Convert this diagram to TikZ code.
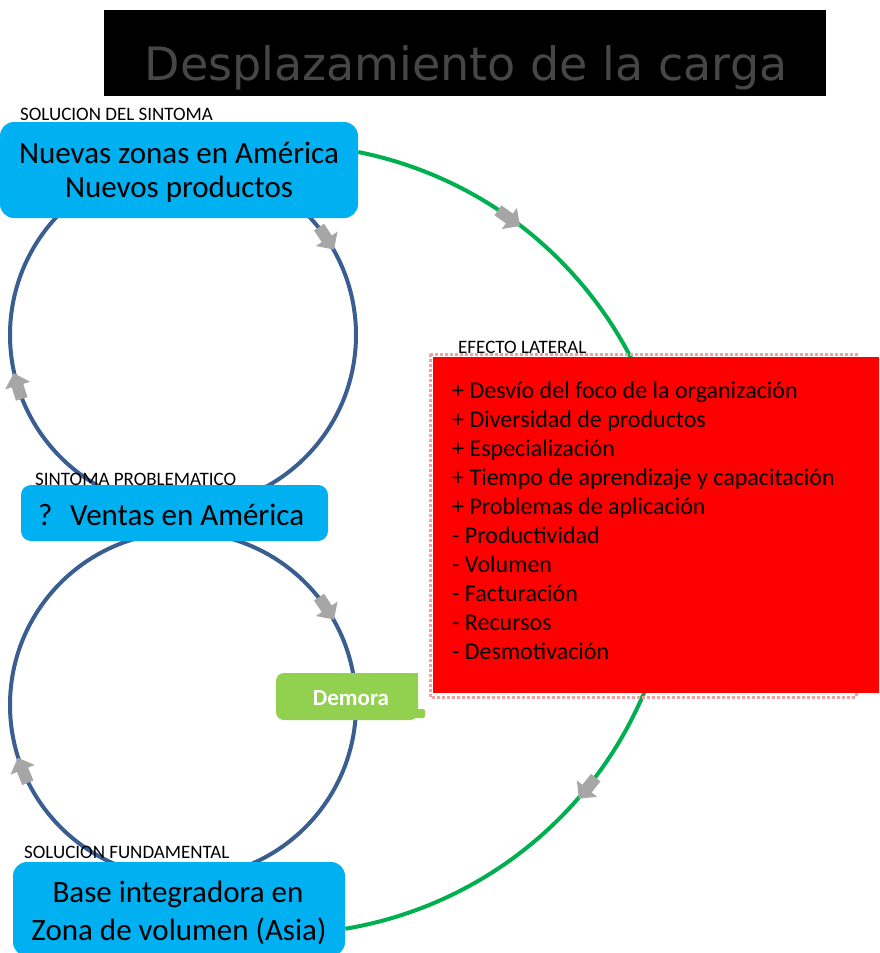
\documentclass[tikz,border=0pt]{standalone}
\usepackage{fontspec}
\setmainfont{Carlito}
\newfontfamily\titlefont{DejaVu Sans}

\definecolor{boxblue}{HTML}{00B0F0}
\definecolor{loopblue}{HTML}{3B5E91}
\definecolor{sidegreen}{HTML}{00B050}
\definecolor{arrowgray}{HTML}{A6A6A6}
\definecolor{delaygreen}{HTML}{92D050}
\definecolor{sidered}{HTML}{FF0000}
\definecolor{halopink}{HTML}{F4A0A0}
\definecolor{titlegray}{HTML}{464646}

\pgfdeclarelayer{paper}
\pgfdeclarelayer{lines}
\pgfsetlayers{paper,lines,main}

\tikzset{
  loopline/.style={draw=loopblue, line width=4pt},
  sideline/.style={draw=sidegreen, line width=4pt},
  bluebox/.style={fill=boxblue, draw=none, inner sep=0pt},
  bigtext/.style={inner sep=0pt, font=\fontsize{31}{34}\selectfont},
  tag/.style={inner sep=0pt, anchor=base west, font=\fontsize{19}{21}\selectfont},
  effect/.style={inner sep=0pt, anchor=base west, font=\fontsize{24}{29}\selectfont},
  blockarr/.pic={\fill[arrowgray] (-14,-6) -- (0,-6) -- (0,-13) -- (13,0) -- (0,13) -- (0,6) -- (-14,6) -- cycle;}
}

\begin{document}
\begin{tikzpicture}[x=1pt,y=1pt]
\useasboundingbox (0,0) rectangle (880,-953);
\begin{pgfonlayer}{paper}
  \fill[white] (0,0) rectangle (880,-953);
\end{pgfonlayer}

% title bar
\node[fill=black, minimum width=722pt, minimum height=86pt, inner sep=0pt] (titlebar) at (465,-53) {};
\node[inner sep=0pt, anchor=base, text=titlegray, font=\titlefont\fontsize{46}{50}\selectfont] (title) at (466,-80) {Desplazamiento de la carga};

% centres of the loops
\coordinate (upc) at (183,-335);
\coordinate (loc) at (183,-705);
\coordinate (sidec) at (280,-540);

% boxes
\node[bluebox, rounded corners=14pt, minimum width=358pt, minimum height=96pt] (nuevas) at (179,-170) {};
\node[bigtext, anchor=base] (nuevas1) at (179,-163) {Nuevas zonas en América};
\node[bigtext, anchor=base] (nuevas2) at (179,-197) {Nuevos productos};
\node[tag] (lblsint) at (20,-120) {SOLUCION DEL SINTOMA};

\node[bluebox, rounded corners=10pt, minimum width=307pt, minimum height=56pt] (ventas) at (174.5,-513) {};
\node[bigtext, anchor=base west] (ventasq) at (38,-525) {?};
\node[bigtext, anchor=base west] (ventas1) at (70,-525) {Ventas en América};
\node[tag] (lblprob) at (35,-485) {SINTOMA PROBLEMATICO};

\node[bluebox, rounded corners=14pt, minimum width=332pt, minimum height=94pt] (base) at (179,-909) {};
\node[bigtext, anchor=base] (base1) at (178,-902) {Base integradora en};
\node[bigtext, anchor=base] (base2) at (179,-940) {Zona de volumen (Asia)};
\node[tag] (lblfund) at (24,-858) {SOLUCION FUNDAMENTAL};

% side effect box with its faint halo
\draw[halopink, line width=3pt, dotted] (430,-354) rectangle (856,-697);
\node[fill=sidered, inner sep=0pt, minimum width=446pt, minimum height=336pt] (effects) at (656,-525) {};
\node[tag] (lbleff) at (458,-353) {EFECTO LATERAL};
\foreach \txt [count=\i from 0] in {%
  + Desvío del foco de la organización,
  + Diversidad de productos,
  + Especialización,
  + Tiempo de aprendizaje y capacitación,
  + Problemas de aplicación,
  - Productividad,
  - Volumen,
  - Facturación,
  - Recursos,
  - Desmotivación}
  \node[effect] (eff\i) at (452,-398-29.1*\i) {\txt};

% delay tag
\node[fill=delaygreen, rounded corners=8pt, minimum width=142pt, minimum height=47pt, inner sep=0pt] (demora) at (347,-696.5) {};
\fill[delaygreen] (demora.north east) rectangle ++(-10,-10);
\fill[delaygreen, rounded corners=2pt] (410,-709) rectangle (425,-718);
\node[inner sep=0pt, anchor=base, text=white, font=\bfseries\fontsize{23}{25}\selectfont] (demoratxt) at (351,-705) {Demora};

% loops and the side-effect arc, behind the boxes
\begin{pgfonlayer}{lines}
  \draw[loopline] (upc) circle[radius=173pt];
  \draw[loopline] (loc) circle[radius=173pt];
  \draw[sideline] (nuevas.east) ++(0,18) arc[start angle=78.6, end angle=-80.5, radius=395pt];
  \pic[rotate=-56.2] at ([shift={(33.8:173pt)}]upc) {blockarr};
  \pic[rotate=107] at ([shift={(197:173pt)}]upc) {blockarr};
  \pic[rotate=-56.2] at ([shift={(33.8:173pt)}]loc) {blockarr};
  \pic[rotate=112] at ([shift={(202:173pt)}]loc) {blockarr};
  \pic[rotate=-35.5] at ([shift={(54.5:395pt)}]sidec) {blockarr};
  \pic[rotate=-129] at ([shift={(-39:395pt)}]sidec) {blockarr};
\end{pgfonlayer}
\end{tikzpicture}
\end{document}
